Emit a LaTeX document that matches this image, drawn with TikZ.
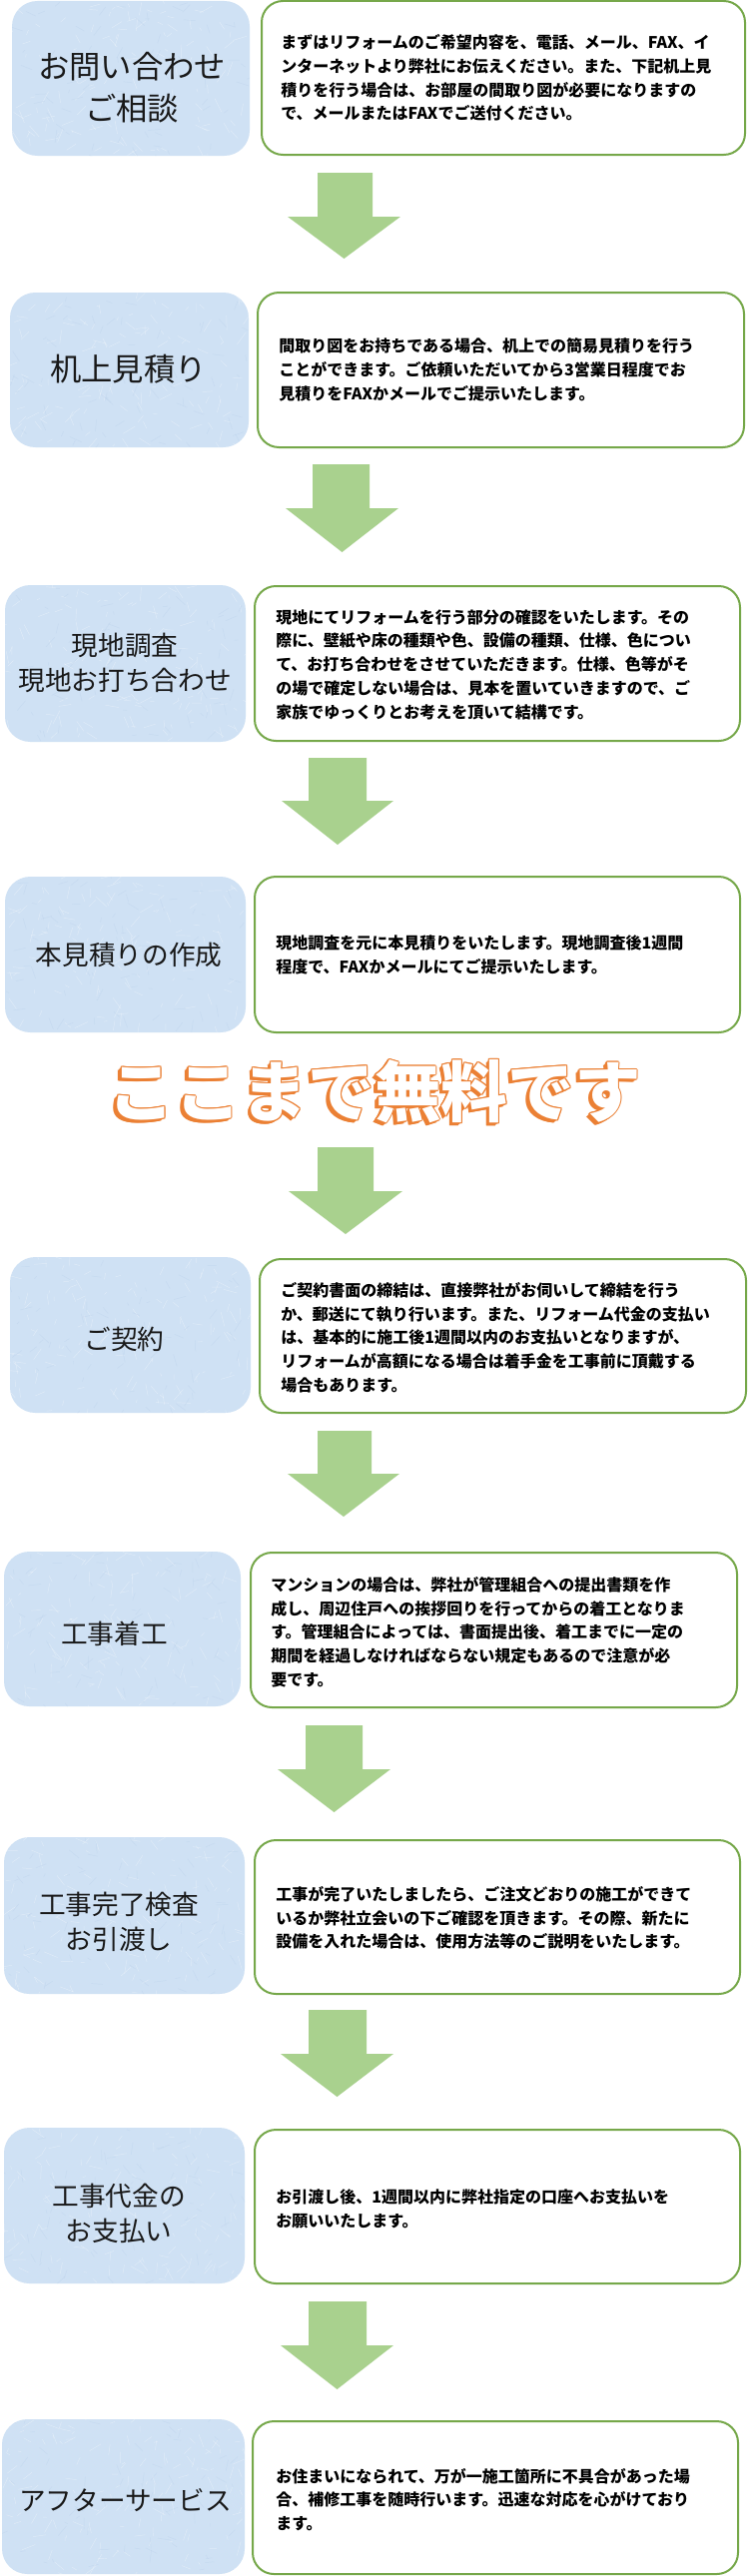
\documentclass[tikz,border=0pt]{standalone}
\usepackage{fontspec}
\newfontfamily\jp{Noto Sans CJK JP}
\usetikzlibrary{fit}
\definecolor{lblue}{RGB}{207,225,244}
\definecolor{lbluedark}{RGB}{186,208,235}
\definecolor{bgreen}{RGB}{118,168,74}
\definecolor{agreen}{RGB}{169,209,142}
\definecolor{orng}{RGB}{235,128,52}
\tikzset{
  lbox/.style={fill=lblue, draw=none, rounded corners=19pt, inner sep=0pt},
  rbox/.style={draw=bgreen, line width=1.5pt, fill=white, rounded corners=16pt, inner sep=0pt},
  ltext/.style={font=\jp\fontsize{20pt}{26.25pt}\selectfont, align=center, inner sep=0pt, text=black!90},
  ltextbig/.style={font=\jp\fontsize{23.5pt}{31.5pt}\selectfont, align=center, inner sep=0pt, text=black!90},
  rtext/.style={font=\jp\bfseries\fontsize{12pt}{17.8pt}\selectfont, align=left, inner sep=0pt, anchor=west, text=black},
  garrow/.style={fill=agreen, draw=none},
  freet/.style={font=\jp\bfseries\fontsize{50pt}{50pt}\selectfont, inner sep=0pt}
}
\newcommand\greenarrow[7]{%
  \fill[garrow] (#1,#3) -- (#2,#3) -- (#2,#4) -- (#7,#4) -- ({(#6+#7)/2},#5) -- (#6,#4) -- (#1,#4) -- cycle;}
\newcommand\lbtexture[4]{%
  \begin{scope}
    \clip[rounded corners=19pt] (#1,#2) rectangle (#3,#4);
    \foreach \i in {1,...,140}{%
      \pgfmathsetmacro\tpx{#1+rnd*(#3-#1)}%
      \pgfmathsetmacro\tpy{#2+rnd*(#4-#2)}%
      \pgfmathsetmacro\tpa{rnd*360}%
      \pgfmathsetmacro\tpl{3+rnd*12}%
      \draw[white,opacity=.35,line width=.35pt] (\tpx,\tpy) -- ++(\tpa:\tpl);
    }
    \foreach \i in {1,...,70}{%
      \pgfmathsetmacro\tpx{#1+rnd*(#3-#1)}%
      \pgfmathsetmacro\tpy{#2+rnd*(#4-#2)}%
      \pgfmathsetmacro\tpa{rnd*360}%
      \pgfmathsetmacro\tpl{3+rnd*10}%
      \draw[lbluedark,opacity=.45,line width=.35pt] (\tpx,\tpy) -- ++(\tpa:\tpl);
    }
  \end{scope}}
\begin{document}
\begin{tikzpicture}[x=0.75pt,y=-0.75pt]
\pgfmathsetseed{7}
\useasboundingbox (0,0) rectangle (749,2580);
\fill[white] (0,0) rectangle (749,2580);

% ---- left boxes ----
\node[lbox, fit={(12,1) (250,156)}] (l1) {};      \lbtexture{12}{1}{250}{156}
\node[lbox, fit={(10,293) (249,448)}] (l2) {};    \lbtexture{10}{293}{249}{448}
\node[lbox, fit={(5,586) (246,743)}] (l3) {};     \lbtexture{5}{586}{246}{743}
\node[lbox, fit={(5,878) (246,1034)}] (l4) {};    \lbtexture{5}{878}{246}{1034}
\node[lbox, fit={(10,1259) (251,1415)}] (l5) {};  \lbtexture{10}{1259}{251}{1415}
\node[lbox, fit={(4,1554) (241,1709)}] (l6) {};   \lbtexture{4}{1554}{241}{1709}
\node[lbox, fit={(4,1840) (245,1997)}] (l7) {};   \lbtexture{4}{1840}{245}{1997}
\node[lbox, fit={(4,2131) (245,2287)}] (l8) {};   \lbtexture{4}{2131}{245}{2287}
\node[lbox, fit={(2,2423) (245,2578)}] (l9) {};   \lbtexture{2}{2423}{245}{2578}

% ---- right boxes ----
\node[rbox, fit={(262,1) (746,155)}] (r1) {};
\node[rbox, fit={(258,293) (745,448)}] (r2) {};
\node[rbox, fit={(255,587) (741,742)}] (r3) {};
\node[rbox, fit={(255,878) (741,1034)}] (r4) {};
\node[rbox, fit={(260,1261) (747,1415)}] (r5) {};
\node[rbox, fit={(251,1555) (738,1710)}] (r6) {};
\node[rbox, fit={(255,1843) (741,1997)}] (r7) {};
\node[rbox, fit={(255,2133) (741,2287)}] (r8) {};
\node[rbox, fit={(253,2425) (739,2578)}] (r9) {};

% ---- left titles ----
\node[ltextbig] (t1) at (132,88) {お問い合わせ\\ご相談};
\node[ltextbig] (t2) at (128.5,370) {机上見積り};
\node[ltext] (t3) at (125,664) {現地調査\\現地お打ち合わせ};
\node[ltext] (t4) at (129,956) {本見積りの作成};
\node[ltext] (t5) at (124.5,1341) {ご契約};
\node[ltext] (t6) at (114.5,1636) {工事着工};
\node[ltext] (t7) at (119,1925) {工事完了検査\\お引渡し};
\node[ltext] (t8) at (119,2217) {工事代金の\\お支払い};
\node[ltext] (t9) at (125.5,2504) {アフターサービス};

% ---- descriptions ----
\node[rtext] (d1) at (281,78) {まずはリフォームのご希望内容を、電話、メール、FAX、イ\\ンターネットより弊社にお伝えください。また、下記机上見\\積りを行う場合は、お部屋の間取り図が必要になりますの\\で、メールまたはFAXでご送付ください。};
\node[rtext] (d2) at (279,370.5) {間取り図をお持ちである場合、机上での簡易見積りを行う\\ことができます。ご依頼いただいてから3営業日程度でお\\見積りをFAXかメールでご提示いたします。};
\node[rtext] (d3) at (276,665.5) {現地にてリフォームを行う部分の確認をいたします。その\\際に、壁紙や床の種類や色、設備の種類、仕様、色につい\\て、お打ち合わせをさせていただきます。仕様、色等がそ\\の場で確定しない場合は、見本を置いていきますので、ご\\家族でゆっくりとお考えを頂いて結構です。};
\node[rtext] (d4) at (276,956.5) {現地調査を元に本見積りをいたします。現地調査後1週間\\程度で、FAXかメールにてご提示いたします。};
\node[rtext] (d5) at (281,1339.5) {ご契約書面の締結は、直接弊社がお伺いして締結を行う\\か、郵送にて執り行います。また、リフォーム代金の支払い\\は、基本的に施工後1週間以内のお支払いとなりますが、\\リフォームが高額になる場合は着手金を工事前に頂戴する\\場合もあります。};
\node[rtext] (d6) at (271,1634.5) {マンションの場合は、弊社が管理組合への提出書類を作\\成し、周辺住戸への挨拶回りを行ってからの着工となりま\\す。管理組合によっては、書面提出後、着工までに一定の\\期間を経過しなければならない規定もあるので注意が必\\要です。};
\node[rtext] (d7) at (276,1921) {工事が完了いたしましたら、ご注文どおりの施工ができて\\いるか弊社立会いの下ご確認を頂きます。その際、新たに\\設備を入れた場合は、使用方法等のご説明をいたします。};
\node[rtext] (d8) at (276,2212.5) {お引渡し後、1週間以内に弊社指定の口座へお支払いを\\お願いいたします。};
\node[rtext] (d9) at (276,2503.5) {お住まいになられて、万が一施工箇所に不具合があった場\\合、補修工事を随時行います。迅速な対応を心がけており\\ます。};

% ---- arrows ----
\greenarrow{318}{373}{173}{217}{259}{288}{401}
\greenarrow{313}{370}{465}{509}{553}{286}{399}
\greenarrow{309}{367}{759}{802}{846}{282}{394}
\greenarrow{318}{374}{1149}{1193}{1236}{289}{403}
\greenarrow{318}{372}{1433}{1476}{1519}{288}{400}
\greenarrow{306}{363}{1728}{1772}{1815}{278}{391}
\greenarrow{309}{367}{2013}{2057}{2100}{281}{394}
\greenarrow{309}{367}{2305}{2349}{2393}{281}{394}

% ---- free banner ----
\foreach \dx/\dy in {-3.5/3.5,-3/3,-2.5/2.5,-2/2,-1.5/1.5,-1/1,-0.5/0.5,1.1/0,-1.1/0,0/1.1,0/-1.1,0.8/0.8,-0.8/-0.8,0.8/-0.8,-0.8/0.8}
  \node[freet, text=orng] at ({375+(\dx)},{1093+(\dy)}) {ここまで無料です};
\node[freet, text=white] (free) at (375,1093) {ここまで無料です};
\end{tikzpicture}
\end{document}
